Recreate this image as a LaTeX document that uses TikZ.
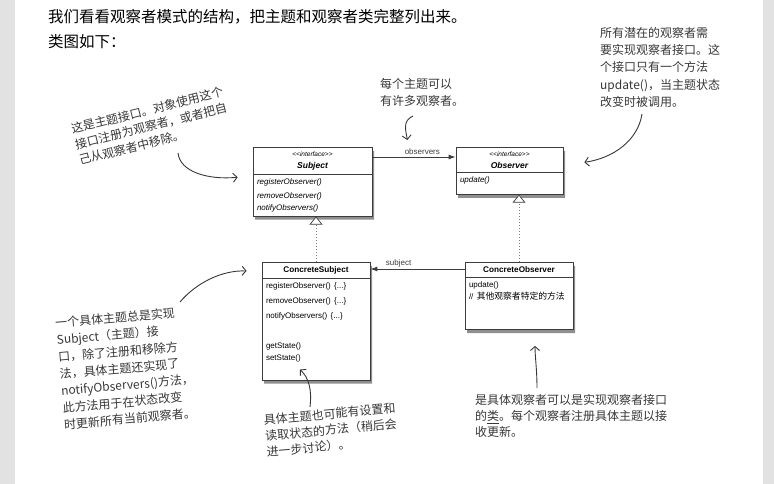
\documentclass[tikz,border=0pt]{standalone}
\usepackage{fontspec}
\setmainfont{Liberation Sans}
\newfontfamily\cjk{Noto Sans CJK SC}
\usepackage{xcolor}
\usetikzlibrary{arrows.meta, positioning, shapes.multipart, shadows}
\definecolor{stripgray}{RGB}{226, 226, 226}
\definecolor{boxline}{RGB}{60, 60, 60}
\definecolor{ink}{RGB}{55, 55, 55}
\definecolor{dotline}{RGB}{125, 125, 125}

\tikzset{
  umlbox/.style={draw=boxline, line width=0.7pt, fill=white, rectangle split,
    rectangle split parts=2, inner xsep=4pt, inner ysep=4pt,
    drop shadow={shadow xshift=2pt, shadow yshift=-3.5pt, fill=black!80, opacity=0.55}},
  heading/.style={inner sep=0pt, anchor=west, font=\cjk\fontsize{15.5}{20}\selectfont},
  note/.style={inner sep=0pt, align=left, text=ink, font=\cjk\fontsize{12}{17}\selectfont},
  notearrow/.style={draw=ink, line width=0.9pt, -{Straight Barb[length=4pt, width=9pt]}},
  assoc/.style={draw=boxline, line width=0.9pt, -{Latex[length=7pt, width=5pt]}},
  assoclabel/.style={font=\fontsize{8}{9}\selectfont, text=boxline, inner sep=1.5pt},
  realize/.style={draw=dotline, line width=0.8pt, dash pattern=on 1pt off 2pt,
    -{Triangle[length=8pt, width=13pt, color=boxline, fill=white, line width=0.7pt]}}
}
\newcommand{\umltitle}[1]{\makebox[\hsize][c]{#1}}

\begin{document}
\begin{tikzpicture}[x=1pt, y=-1pt]
  \useasboundingbox (0,0) rectangle (774,484);
  \fill[stripgray] (0,0) rectangle (15,484);
  \fill[stripgray] (763,0) rectangle (774,484);

  \node[heading] (intro) at (48,17) {我们看看观察者模式的结构，把主题和观察者类完整列出来。};
  \node[heading] (caption) at (48,42) {类图如下：};

  % the four classes
  \node[umlbox, text width=111pt, anchor=north] (subject) at (312.5,147)
    {\fontsize{8.5}{9.5}\selectfont\umltitle{\fontsize{6.5}{8}\selectfont\itshape <{}<interface>{}>}\\\umltitle{\bfseries\itshape Subject}
     \nodepart{two}\raggedright\fontsize{8}{13.5}\selectfont\itshape registerObserver()\\removeObserver()\\notifyObservers()};
  \node[umlbox, text width=99pt, anchor=north] (observer) at (509.5,147)
    {\fontsize{8.5}{9.5}\selectfont\umltitle{\fontsize{6.5}{8}\selectfont\itshape <{}<interface>{}>}\\\umltitle{\bfseries\itshape Observer}
     \nodepart{two}\raggedright\fontsize{8}{14}\selectfont\itshape update()\rule[-7pt]{0pt}{0pt}};
  \node[umlbox, text width=100pt, anchor=north] (csubject) at (316,262)
    {\fontsize{8.2}{10}\selectfont\umltitle{\bfseries ConcreteSubject}
     \nodepart{two}\raggedright\fontsize{8}{15}\selectfont registerObserver() \{...\}\\removeObserver() \{...\}\\notifyObservers() \{...\}\\[15pt]getState()\\setState()\rule[-15pt]{0pt}{0pt}};
  \node[umlbox, text width=100pt, anchor=north] (cobserver) at (519,262)
    {\fontsize{8.2}{10}\selectfont\umltitle{\bfseries ConcreteObserver}
     \nodepart{two}\raggedright\fontsize{8}{15}\selectfont update()\\// {\cjk\fontsize{8.8}{15}\selectfont 其他观察者特定的方法}\rule[-26pt]{0pt}{0pt}};

  \draw[assoc] ([yshift=-10pt]subject.north east) --
    node[assoclabel, pos=0.6, above] {observers} ([yshift=-10pt]observer.north west);
  \draw[assoc] ([yshift=-7pt]cobserver.north west) --
    node[assoclabel, pos=0.7, above] {subject} ([yshift=-7pt]csubject.north east);
  \draw[realize] (csubject.north) -- (csubject.north |- subject.south);
  \draw[realize] (cobserver.north) -- (cobserver.north |- observer.south);

  % handwritten notes
  \node[note, rotate=14, font=\cjk\fontsize{12}{16}\selectfont] (noteSubject) at (151,126)
    {这是主题接口。对象使用这个\\接口注册为观察者，或者把自\\己从观察者中移除。};
  \node[note, anchor=north west] (noteMany) at (380,78) {每个主题可以\\有许多观察者。};
  \node[note, anchor=north west, font=\cjk\fontsize{12}{17.3}\selectfont] (noteObserver) at (600,27)
    {所有潜在的观察者需\\要实现观察者接口。这\\个接口只有一个方法\\update()，当主题状态\\改变时被调用。};
  \node[note, rotate=5] (noteConcrete) at (126,368)
    {一个具体主题总是实现\\Subject（主题）接\\口，除了注册和移除方\\法，具体主题还实现了\\notifyObservers()方法，\\此方法用于在状态改变\\时更新所有当前观察者。};
  \node[note, rotate=5, font=\cjk\fontsize{12}{16}\selectfont] (noteState) at (331,430)
    {具体主题也可能有设置和\\读取状态的方法（稍后会\\进一步讨论）。};
  \node[note, anchor=north west, font=\cjk\fontsize{12}{16}\selectfont] (noteConcObs) at (475,394)
    {是具体观察者可以是实现观察者接口\\的\underline{类}。每个观察者注册具体主题以接\\收更新。};

  \coordinate (tailSubject) at (178,153);
  \coordinate (tailMany) at (413,116);
  \coordinate (tailObserver) at (642,114);
  \coordinate (tailConcrete) at (180,302);
  \coordinate (tailState) at (310,407);
  \coordinate (tailConcObs) at (537,388);
  \draw[notearrow] (tailSubject) .. controls (180,172) and (208,180) .. ([shift={(-15pt,4.5pt)}]subject.west);
  \draw[notearrow] (tailMany) .. controls (402,121) and (406,131) .. ([shift={(35pt,7pt)}]subject.north east);
  \draw[notearrow] (tailObserver) .. controls (638,140) and (614,158) .. ([shift={(21pt,8.5pt)}]observer.east);
  \draw[notearrow] (tailConcrete) .. controls (196,283) and (222,270) .. ([shift={(-15pt,-9pt)}]csubject.north west);
  \draw[notearrow] (tailState) .. controls (312,390) and (309,378) .. ([shift={(-16pt,11pt)}]csubject.south);
  \draw[notearrow] (tailConcObs) .. controls (537,370) and (535,356) .. ([shift={(16pt,-16pt)}]cobserver.south);
\end{tikzpicture}
\end{document}
